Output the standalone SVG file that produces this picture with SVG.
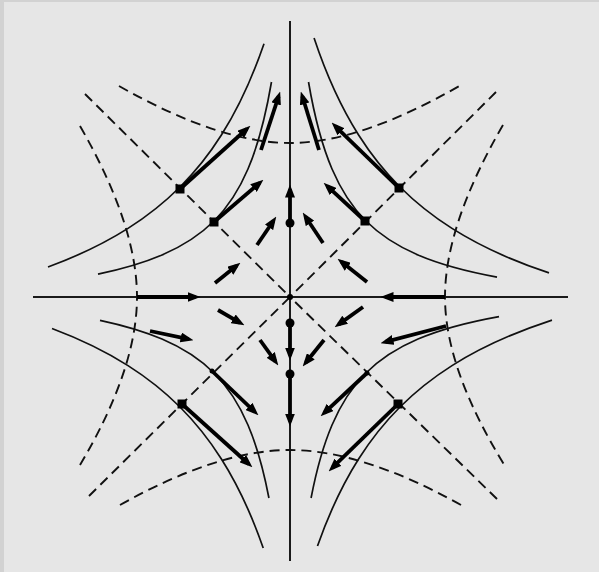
<svg xmlns="http://www.w3.org/2000/svg" width="599" height="572" viewBox="0 0 599 572">
<defs>
<style>
.thin{fill:none;stroke:#111;stroke-width:1.7}
.dash{fill:none;stroke:#111;stroke-width:1.9;stroke-dasharray:10 6}
.axis{fill:none;stroke:#1a1a1a;stroke-width:2}
.arr{fill:none;stroke:#000;stroke-width:3.8;marker-end:url(#ah)}
.dot{fill:#000}
</style>
<marker id="ah" markerUnits="userSpaceOnUse" markerWidth="13" markerHeight="10" refX="8" refY="5" orient="auto" viewBox="0 0 13 10"><path d="M0,0 L13,5 L0,10 z" fill="#000"/></marker>
</defs>
<rect width="599" height="572" fill="#d2d2d2"/>
<rect x="4" y="2" width="595" height="570" fill="#e6e6e6"/>

<g id="axes">
<path class="axis" d="M290 21 V561"/>
<path class="axis" d="M33 297 H568"/>
</g>

<g id="guides" transform="translate(290,297)">
<path class="dash" d="M-205 -203 L0 0"/>
<path class="dash" d="M207 202 L0 0"/>
<path class="dash" d="M206 -205 L0 0"/>
<path class="dash" d="M-201 199 L0 0"/>
<path class="dash" d="M-171 -211 Q-70.5 -154 0 -154 T171 -212"/>
<path class="dash" d="M-170 208 Q-72 153 0 153 T171 208"/>
<path class="dash" d="M-210 -171 Q-153 -72 -153 0 T-210 168"/>
<path class="dash" d="M213 -172 Q155 -72 155 0 T215 169"/>
</g>

<g id="trajectories" transform="translate(290,297)">
<path class="thin" d="M-242 -30 Q-196.58 -46.69 -162 -68.6 Q-133.05 -86.95 -110 -110 Q-86.95 -133.05 -68.6 -162 Q-44.07 -200.72 -26 -253.3"/>
<path class="thin" d="M259 -24.07 Q202.75 -42.78 162 -68.6 Q133.05 -86.95 110 -110 Q86.95 -133.05 68.6 -162 Q42.78 -202.75 24.07 -259"/>
<path class="thin" d="M-238 31.5 Q-195.07 47.64 -162 68.6 Q-133.05 86.95 -110 110 Q-86.95 133.05 -68.6 162 Q-44.59 199.89 -26.79 251"/>
<path class="thin" d="M262 23.08 Q203.8 42.11 162 68.6 Q133.05 86.95 110 110 Q86.95 133.05 68.6 162 Q45.05 199.16 27.49 249"/>
<path class="thin" d="M-192 -22.9 Q-154.37 -30.77 -128 -42.03 Q-96.55 -55.45 -76 -76 Q-55.45 -96.55 -42.03 -128 Q-27.63 -161.72 -18.52 -215"/>
<path class="thin" d="M207 -19.94 Q159.27 -28.68 128 -42.03 Q96.55 -55.45 76 -76 Q55.45 -96.55 42.03 -128 Q27.63 -161.72 18.52 -215"/>
<path class="thin" d="M-190 23.3 Q-153.69 31.06 -128 42.03 Q-96.55 55.45 -76 76 Q-55.45 96.55 -42.03 128 Q-29.5 157.36 -21.07 201"/>
<path class="thin" d="M209 19.58 Q159.89 28.41 128 42.03 Q96.55 55.45 76 76 Q55.45 96.55 42.03 128 Q29.5 157.36 21.07 201"/>
</g>

<g id="arrows">
<path class="arr" d="M180 189 L246.7 129"/>
<path class="arr" d="M214 222 L259.6 182.9"/>
<path class="arr" d="M261 150 L278.6 96.3"/>
<path class="arr" d="M215 283 L236.5 265.8"/>
<path class="arr" d="M257 245 L273.5 220.7"/>
<path class="arr" d="M399 188 L335.2 126.1"/>
<path class="arr" d="M365 221 L327.3 186.1"/>
<path class="arr" d="M319 150 L302.3 96.3"/>
<path class="arr" d="M367 282 L341.5 261.8"/>
<path class="arr" d="M323 243 L305.5 216.7"/>
<path class="arr" d="M182 404 L248.7 464"/>
<path class="arr" d="M212 371 L254.8 411.9"/>
<path class="arr" d="M150 331 L188.6 339.1"/>
<path class="arr" d="M218 310 L240.1 322.8"/>
<path class="arr" d="M260 340 L275.4 361.4"/>
<path class="arr" d="M398 404 L332.2 467.9"/>
<path class="arr" d="M367 373 L324.3 412.9"/>
<path class="arr" d="M446 326 L385.4 341.9"/>
<path class="arr" d="M363 307 L338.7 324.4"/>
<path class="arr" d="M324 340 L305.8 362.5"/>
<path class="arr" d="M290 223 L290 189.5"/>
<path class="arr" d="M137 297 L195.5 297"/>
<path class="arr" d="M445 297 L385.5 297"/>
<path class="arr" d="M290 323 L290 355.5"/>
<path class="arr" d="M290 374 L290 421.5"/>
</g>

<g id="points">
<rect class="dot" x="175.5" y="184.5" width="9" height="9"/>
<rect class="dot" x="209.5" y="217.5" width="9" height="9"/>
<rect class="dot" x="394.5" y="183.5" width="9" height="9"/>
<rect class="dot" x="360.5" y="216.5" width="9" height="9"/>
<rect class="dot" x="177.5" y="399.5" width="9" height="9"/>
<rect class="dot" x="393.5" y="399.5" width="9" height="9"/>
<circle class="dot" cx="212" cy="371" r="2.5"/>
<circle class="dot" cx="367" cy="373" r="2.5"/>
<circle class="dot" cx="290" cy="223" r="4.5"/>
<circle class="dot" cx="290" cy="323" r="4.5"/>
<circle class="dot" cx="290" cy="374" r="4.5"/>
<circle class="dot" cx="290" cy="297" r="3"/>
</g>
</svg>
